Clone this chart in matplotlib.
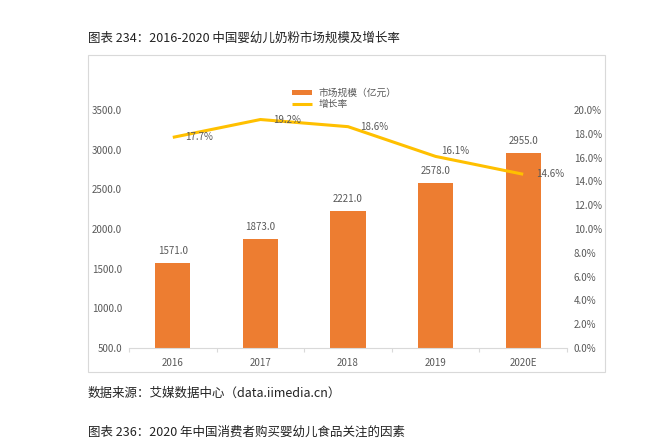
import matplotlib
matplotlib.use("Agg")
import matplotlib.pyplot as plt
from matplotlib.patches import Rectangle
import numpy as np

plt.rcParams["font.family"] = ["Noto Sans CJK SC", "DejaVu Sans"]

# data
years = ["2016", "2017", "2018", "2019", "2020E"]
market_size = [1571.0, 1873.0, 2221.0, 2578.0, 2955.0]  # 亿元
growth_rate = [17.7, 19.2, 18.6, 16.1, 14.6]  # %

left_ticks = [500, 1000, 1500, 2000, 2500, 3000, 3500]
right_ticks = [0, 2, 4, 6, 8, 10, 12, 14, 16, 18, 20]

title_text = "图表 234：2016-2020 中国婴幼儿奶粉市场规模及增长率"
source_text = "数据来源：艾媒数据中心（data.iimedia.cn）"
next_title_text = "图表 236：2020 年中国消费者购买婴幼儿食品关注的因素"

bar_color = "#ED7D31"
line_color = "#FFC000"
label_color = "#595959"
W, H = 660, 446

fig = plt.figure(figsize=(W / 100, H / 100), dpi=100)

# light frame around the chart
fig.patches.append(Rectangle((88 / W, 1 - 372 / H), 517 / W, 317 / H,
                             transform=fig.transFigure, fill=False,
                             edgecolor="#D9D9D9", linewidth=0.8))

ax = fig.add_axes([129 / W, 1 - 348 / H, 438 / W, 238 / H])
x = np.arange(len(years))
bars = ax.bar(x, market_size, width=0.4, color=bar_color, label="市场规模（亿元）", zorder=2)

ax.set_xlim(-0.5, len(years) - 0.5)
ax.set_ylim(500, 3500)
ax.set_yticks(left_ticks)
ax.set_yticklabels([f"{v:.1f}" for v in left_ticks])
ax.set_xticks(x)
ax.set_xticklabels(years)
ax.set_xticks(np.arange(-0.5, len(years), 1.0), minor=True)
ax.tick_params(axis="x", which="major", length=0, pad=7, labelsize=7, labelcolor=label_color)
ax.tick_params(axis="x", which="minor", length=3, color="#D9D9D9", width=0.8)
ax.tick_params(axis="y", length=0, pad=5, labelsize=7, labelcolor=label_color)
for side in ["top", "right", "left"]:
    ax.spines[side].set_visible(False)
ax.spines["bottom"].set_color("#D9D9D9")
ax.spines["bottom"].set_linewidth(0.8)

for xi, v in zip(x, market_size):
    ax.annotate(f"{v:.1f}", (xi, v), xytext=(0, 9), textcoords="offset points",
                ha="center", va="center", fontsize=7, color=label_color)

ax2 = ax.twinx()
line, = ax2.plot(x, [g / 100 for g in growth_rate], color=line_color, linewidth=2.2,
                 label="增长率", solid_capstyle="butt", zorder=3)
ax2.set_ylim(0, 0.2)
ax2.set_yticks([t / 100 for t in right_ticks])
ax2.set_yticklabels([f"{t:.1f}%" for t in right_ticks])
ax2.tick_params(axis="y", length=0, pad=5, labelsize=7, labelcolor=label_color)
for side in ["top", "right", "left", "bottom"]:
    ax2.spines[side].set_visible(False)

label_offsets = [(9, 0), (9, 0), (9, 0), (4, 4), (9, 0)]
for xi, g, off in zip(x, growth_rate, label_offsets):
    ax2.annotate(f"{g:.1f}%", (xi, g / 100), xytext=off, textcoords="offset points",
                 ha="left", va="center", fontsize=7, color=label_color)

fig.legend(handles=[bars, line], labels=["市场规模（亿元）", "增长率"],
           loc="upper left", bbox_to_anchor=(292 / W, 1 - 88 / H),
           frameon=False, fontsize=7, labelcolor=label_color,
           handlelength=2.1, handleheight=0.5, handletextpad=0.6,
           labelspacing=0.15, borderpad=0, borderaxespad=0)

fig.text(88 / W, 1 - 38 / H, title_text, fontsize=9, color="#222222", va="center", ha="left")
fig.text(88 / W, 1 - 393 / H, source_text, fontsize=9, color="#222222", va="center", ha="left")
fig.text(88 / W, 1 - 432 / H, next_title_text, fontsize=9, color="#222222", va="center", ha="left")

fig.savefig("out.png", dpi=100)
